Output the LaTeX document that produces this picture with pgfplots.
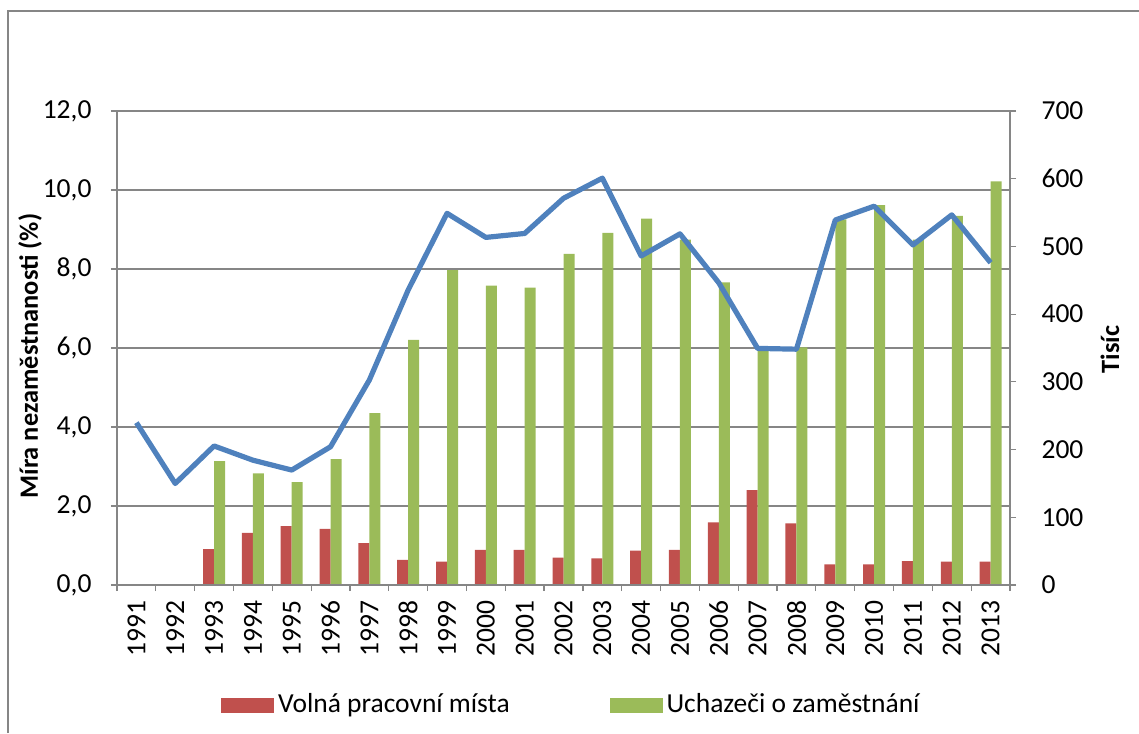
\documentclass[border=0pt]{standalone}
\usepackage{pgfplots}
\pgfplotsset{compat=1.18}
\usepackage{fontspec}
\setmainfont{Carlito}
\definecolor{axgray}{HTML}{868686}
\definecolor{cred}{HTML}{C0504D}
\definecolor{cgreen}{HTML}{9BBB59}
\definecolor{cblue}{HTML}{4F81BD}
\newcommand{\cf}{\fontsize{13.75}{16}\selectfont}
\newcommand{\lf}{\fontsize{13.2}{16}\selectfont}
\begin{document}
\cf
\begin{tikzpicture}
\path[use as bounding box] (-58.5pt,-74pt) rectangle (511pt,292.5pt);
\draw[axgray, line width=0.8pt] (-54.5pt,-74pt) -- (-54.5pt,287pt) -- (511pt,287pt);
\begin{axis}[
  scale only axis, width=446.5pt, height=237pt,
  xmin=-0.5, xmax=22.5, ymin=0, ymax=700,
  hide x axis,
  axis y line*=right,
  axis line style={-, draw=axgray, line width=0.6pt},
  ytick={0,100,...,700},
  tick align=outside, major tick length=3pt,
  tick style={axgray, line width=0.6pt},
  extra y ticks={116.667,233.333,350,466.667,583.333,700},
  extra y tick labels={},
  extra y tick style={grid=major, major tick length=0pt},
  grid style={axgray, line width=0.6pt},
  ybar=0pt, bar width=5.5pt,
  /pgf/number format/assume math mode=true,
  yticklabel style={font=\cf, xshift=8pt},
  ylabel={\bfseries Tisíc},
  every axis y label/.style={at={(axis description cs:1.112,0.497)}, rotate=90, anchor=center, font=\lf},
]
\addplot[fill=cred, draw=none] coordinates {
(2,53) (3,77) (4,87) (5,83) (6,62) (7,37) (8,34.5) (9,51.7) (10,51.7) (11,40.4)
(12,39.4) (13,50.7) (14,51.7) (15,92.6) (16,140) (17,91) (18,30.5) (19,30.5)
(20,35.4) (21,34.5) (22,34.5)};
\addplot[fill=cgreen, draw=none] coordinates {
(2,183) (3,165) (4,152) (5,186) (6,254) (7,362) (8,465) (9,442) (10,439) (11,489)
(12,520) (13,541) (14,510) (15,447) (16,352) (17,351) (18,540) (19,561)
(20,510) (21,545) (22,596)};
\end{axis}
\begin{axis}[
  scale only axis, width=446.5pt, height=237pt,
  xmin=-0.5, xmax=22.5, ymin=0, ymax=12,
  axis x line*=bottom, axis y line*=left,
  axis line style={-, draw=axgray, line width=0.6pt},
  tick align=outside, major tick length=3pt, minor tick length=3pt,
  tick style={axgray, line width=0.6pt},
  xtick={0,...,22},
  xticklabels={1991,1992,1993,1994,1995,1996,1997,1998,1999,2000,2001,2002,2003,2004,2005,2006,2007,2008,2009,2010,2011,2012,2013},
  major x tick style={draw=none},
  minor xtick={-0.5,0.5,...,22.5},
  xticklabel style={rotate=90, anchor=east, font=\cf},
  ytick={0,2,...,12},
  /pgf/number format/assume math mode=true,
  yticklabel style={/pgf/number format/.cd, fixed, fixed zerofill, precision=1, use comma, /tikz/.cd, font=\cf, xshift=-5pt},
  ylabel={\bfseries Míra nezaměstnanosti (\%)},
  every axis y label/.style={at={(axis description cs:-0.0974,0.483)}, rotate=90, anchor=center, font=\lf},
  legend style={at={(axis description cs:0.51,-0.253)}, anchor=center, draw=none, fill=none,
    font=\cf, /tikz/every even column/.append style={column sep=48pt}},
  legend columns=2,
  legend cell align=left,
]
\addlegendimage{legend image code/.code={\fill[cred] (0pt,-3.5pt) rectangle (26pt,3.5pt);}}
\addlegendentry{Volná pracovní místa}
\addlegendimage{legend image code/.code={\fill[cgreen] (0pt,-3.5pt) rectangle (26pt,3.5pt);}}
\addlegendentry{Uchazeči o zaměstnání}
\addplot[cblue, line width=2.6pt, mark=none, line join=round] coordinates {
(0,4.11) (1,2.57) (2,3.52) (3,3.16) (4,2.91) (5,3.50) (6,5.19) (7,7.47) (8,9.41)
(9,8.80) (10,8.90) (11,9.79) (12,10.30) (13,8.33) (14,8.89) (15,7.65) (16,5.99)
(17,5.97) (18,9.24) (19,9.59) (20,8.61) (21,9.37) (22,8.16)};
\end{axis}
\end{tikzpicture}
\end{document}
